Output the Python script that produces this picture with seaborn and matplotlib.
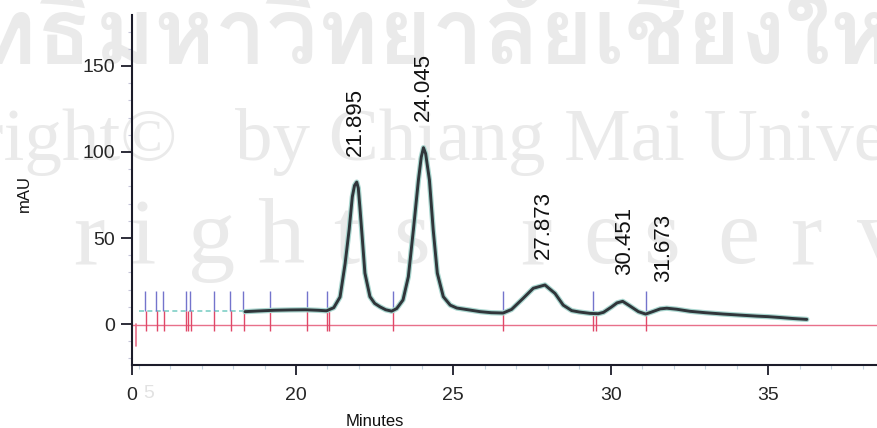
import numpy as np
import pandas as pd
import matplotlib
matplotlib.use("Agg")
import matplotlib.pyplot as plt
import seaborn as sns
from matplotlib import font_manager
from matplotlib.ticker import MultipleLocator, FixedLocator

# ---------------- data ----------------
time_min = [18.38, 18.8, 19.3, 19.8, 20.3, 20.7, 20.97, 21.2, 21.40, 21.56, 21.69,
            21.79, 21.86, 21.93, 21.98, 22.03, 22.11, 22.19, 22.35, 22.50, 22.67,
            22.85, 23.04, 23.20, 23.40, 23.57, 23.73, 23.89, 23.98, 24.05, 24.12,
            24.24, 24.36, 24.49, 24.68, 24.9, 25.11, 25.5, 25.85, 26.2, 26.58,
            26.85, 27.22, 27.54, 27.91, 28.23, 28.49, 28.76, 29.0, 29.34, 29.6,
            29.77, 30.03, 30.2, 30.38, 30.61, 30.88, 31.11, 31.3, 31.57, 31.78,
            32.10, 32.52, 33.0, 33.58, 34.1, 34.64, 35.0, 35.38, 35.8, 36.23]
signal_mau = [7.2, 7.6, 8.0, 8.2, 8.3, 8.0, 7.7, 9.5, 15.7, 35.0, 55.0,
              74.0, 80.5, 82.5, 79.0, 68.0, 49.0, 29.6, 15.9, 12.0, 10.0,
              8.3, 7.5, 9.0, 14.0, 27.5, 54.7, 83.7, 97.0, 102.5, 99.0,
              83.7, 54.7, 29.6, 15.9, 11.0, 9.3, 8.2, 7.2, 6.6, 6.4,
              8.5, 15.0, 20.8, 22.7, 17.8, 11.0, 7.8, 7.0, 6.2, 6.0,
              6.8, 10.0, 12.3, 13.2, 10.5, 7.2, 5.8, 7.0, 8.8, 9.2,
              8.6, 7.4, 6.6, 5.8, 5.2, 4.6, 4.3, 3.8, 3.2, 2.7]

peak_times = [21.895, 24.045, 27.873, 30.451, 31.673]
peak_heights = [82.5, 102.5, 22.7, 13.2, 9.0]
peak_labels = ["21.895", "24.045", "27.873", "30.451", "31.673"]

event_times = [15.20, 15.55, 15.77, 16.50, 16.62, 17.39, 17.90, 18.32, 19.17,
               20.35, 20.99, 23.08, 26.58, 29.44, 31.12]
event_levels = [7.5, 7.5, 7.5, 7.5, 7.5, 7.5, 7.5, 7.5, 7.8,
                8.2, 7.7, 7.5, 6.4, 6.0, 5.8]
red_times = [15.25, 15.58, 15.81, 16.52, 16.58, 16.65, 17.41, 17.92, 18.34,
             19.18, 20.36, 21.00, 21.06, 23.09, 26.59, 29.45, 29.54, 31.13]
red_levels = [7.5, 7.5, 7.5, 7.5, 7.5, 7.5, 7.5, 7.5, 7.5,
              7.8, 8.2, 7.7, 7.7, 7.5, 6.4, 6.0, 6.0, 5.8]

y_ticks = [0, 50, 100, 150]
x_ticks = [20, 25, 30, 35]
x_tick_labels = ["20", "25", "30", "35"]

df = pd.DataFrame({"Minutes": time_min, "mAU": signal_mau})

# ---------------- figure ----------------
sns.set_theme(style="white")
plt.rcParams["font.family"] = ["Liberation Sans", "DejaVu Sans"]

fig = plt.figure(figsize=(8.77, 4.28), dpi=100)
ax = fig.add_axes([132 / 877, 63 / 428, 745 / 877, 350 / 428])
ax.set_facecolor("none")
ax.set_zorder(2)

xmin, xmax = 14.79, 38.46
ymin, ymax = -23.8, 179.6

# ---- watermark (light gray, behind everything) ----
wm = "#eaeaea"
serif = ["Liberation Serif", "DejaVu Serif"]
thai_font = None
for f in font_manager.fontManager.ttflist:
    if any(k in f.name for k in ("Thai", "Loma", "Garuda", "Norasi", "Kinnari",
                                  "Waree", "Sawasdee", "Umpush", "Tlwg", "Laksaman")):
        thai_font = f.name
        break
if thai_font is not None:
    fig.text(92 / 877, 1 - 64 / 428, "ลิขสิทธิ์", color=wm, fontsize=66,
             family=thai_font, weight="bold", ha="right", va="baseline", zorder=0)
    fig.text(95 / 877, 1 - 64 / 428, "มหาวิทยาลัยเชียงใหม่", color=wm, fontsize=66,
             family=thai_font, weight="bold", ha="left", va="baseline", zorder=0)
fig.text(178 / 877, 1 - 160 / 428, "Copyright©", color=wm, fontsize=54,
         family=serif, ha="right", va="baseline", zorder=0)
fig.text(235 / 877, 1 - 160 / 428, "by Chiang Mai University", color=wm, fontsize=54,
         family=serif, ha="left", va="baseline", zorder=0)
wm_letters = list("rightsreserv")
wm_x = [73, 130, 188, 257, 333, 393, 520, 583, 643, 717, 790, 857]
for ch, px in zip(wm_letters, wm_x):
    fig.text(px / 877, 1 - 263 / 428, ch, color=wm, fontsize=68,
             family=serif, ha="left", va="baseline", zorder=0)

# ---- baseline (pink) and event marks ----
ax.plot([xmin, xmax], [-0.5, -0.5], color="#e8708a", lw=1.0, zorder=2)
ax.plot([14.93, 14.93], [0, -13], color="#e8708a", lw=1.2, zorder=2)
ax.plot([15.0, 18.38], [7.5, 7.5], color="#7fcfc6", lw=1.2, ls=(0, (3, 2)), zorder=2)
ax.vlines(event_times, event_levels, 19, color="#7474cc", lw=1.0, zorder=3)
ax.vlines(red_times, red_levels, -4, color="#e04868", lw=1.0, zorder=3)

# ---- chromatogram trace ----
sns.lineplot(data=df, x="Minutes", y="mAU", ax=ax, color="#a9d6cf", lw=3.8,
             zorder=4, legend=False)
sns.lineplot(data=df, x="Minutes", y="mAU", ax=ax, color="#30353a", lw=2.1,
             zorder=5, legend=False)

# ---- peak labels ----
for t, h, lab in zip(peak_times, peak_heights, peak_labels):
    ax.annotate(lab, xy=(t, h), xytext=(0, 19), textcoords="offset points",
                rotation=90, ha="center", va="bottom", fontsize=16, color="#111111",
                zorder=6)

# ---- axes styling ----
ax.set_xlim(xmin, xmax)
ax.set_ylim(ymin, ymax)
for s in ("top", "right"):
    ax.spines[s].set_visible(False)
for s in ("left", "bottom"):
    ax.spines[s].set_color("#1c1c2a")
    ax.spines[s].set_linewidth(1.5)

ax.yaxis.set_major_locator(FixedLocator(y_ticks))
ax.yaxis.set_minor_locator(MultipleLocator(10))
ax.xaxis.set_major_locator(FixedLocator([xmin] + x_ticks))
ax.set_xticklabels(["0"] + x_tick_labels)
ax.xaxis.set_minor_locator(MultipleLocator(1))
ax.tick_params(axis="y", which="major", direction="out", length=8, width=1.3,
               color="#1c1c2a", labelsize=14, pad=4, left=True)
ax.tick_params(axis="y", which="minor", direction="out", length=3, width=0.8,
               color="#c4c4d8", left=True)
ax.tick_params(axis="x", which="major", direction="out", length=7, width=1.3,
               color="#1c1c2a", labelsize=14, pad=9, bottom=True)
ax.tick_params(axis="x", which="minor", direction="out", length=3, width=0.8,
               color="#c4d4e0", bottom=True)
ax.text(15.32, -40.5, "5", fontsize=14, color="#e2e2e2", ha="center", va="center",
        clip_on=False)

ax.set_xlabel("Minutes", fontsize=12, color="#111111")
ax.set_ylabel("mAU", fontsize=12, color="#111111")
ax.xaxis.set_label_coords(0.326, -0.14)
ax.yaxis.set_label_coords(-0.135, 0.49)
ax.grid(False)

fig.savefig("out.png", dpi=100)
